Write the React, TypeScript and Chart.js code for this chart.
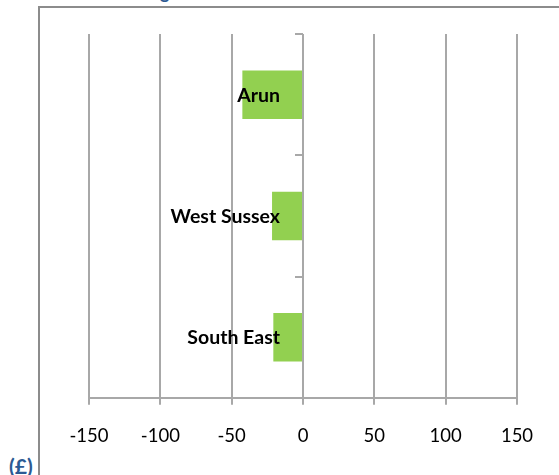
import React, { useEffect, useRef } from "react";
import { Chart, registerables } from "chart.js";

Chart.register(...registerables);

const categories = ["Arun", "West Sussex", "South East"];
const values = [-42.5, -21.7, -20.8];
const xMin = -150;
const xMax = 150;
const xStep = 50;
const unitLabel = "(£)";

const FONT = "Lato, 'Open Sans', sans-serif";

const categoryLabelPlugin = {
  id: "categoryLabels",
  afterDatasetsDraw(chart: any) {
    const { ctx, scales } = chart;
    const xs = scales.x;
    const ys = scales.y;
    const x0 = xs.getPixelForValue(0);
    ctx.save();
    // tick marks on the category axis (at x = 0), between categories
    ctx.strokeStyle = "#a8a8a8";
    ctx.lineWidth = 2;
    for (let i = 0; i <= categories.length; i++) {
      const y = Math.round(ys.getPixelForValue(i - 0.5));
      ctx.beginPath();
      ctx.moveTo(x0, y);
      ctx.lineTo(x0 - 8, y);
      ctx.stroke();
    }
    ctx.fillStyle = "#000000";
    ctx.font = `bold 19.5px ${FONT}`;
    ctx.textAlign = "right";
    ctx.textBaseline = "middle";
    categories.forEach((c, i) => {
      ctx.fillText(c, x0 - 23, ys.getPixelForValue(i) + 1);
    });
    ctx.restore();
  },
};

export default function App() {
  const ref = useRef<HTMLCanvasElement>(null);
  useEffect(() => {
    if (!ref.current) return;
    const chart = new Chart(ref.current, {
      type: "bar",
      data: {
        labels: categories,
        datasets: [
          {
            data: values,
            backgroundColor: "#92D050",
            borderWidth: 0,
            barPercentage: 0.4,
            categoryPercentage: 1,
          },
        ],
      },
      options: {
        indexAxis: "y",
        animation: false,
        responsive: false,
        devicePixelRatio: 1,
        layout: { padding: { left: 89, top: 34, right: 42, bottom: 8 } },
        plugins: {
          legend: { display: false },
          tooltip: { enabled: false },
          title: { display: false },
        },
        scales: {
          x: {
            type: "linear",
            min: xMin,
            max: xMax,
            ticks: {
              stepSize: xStep,
              color: "#000000",
              font: { family: FONT, size: 18.5 },
              padding: 20,
              maxRotation: 0,
            },
            grid: {
              color: "#a8a8a8",
              lineWidth: 2,
              tickLength: 7,
              drawTicks: true,
            },
            border: { display: true, color: "#a8a8a8", width: 2 },
          },
          y: {
            type: "category",
            display: false,
          },
        },
      },
      plugins: [categoryLabelPlugin],
    } as any);
    return () => chart.destroy();
  }, []);

  return (
    <div
      style={{
        position: "absolute",
        left: 0,
        top: 0,
        width: 559,
        height: 475,
        overflow: "hidden",
        background: "#ffffff",
      }}
    >
      <div
        style={{
          position: "absolute",
          left: 38,
          top: 6,
          width: 600,
          height: 467,
          borderLeft: "2px solid #8c8c8c",
          borderTop: "2px solid #8c8c8c",
          borderBottom: "1px solid #c8c8c8",
        }}
      />
      <div
        style={{
          position: "absolute",
          left: 160,
          top: -17,
          fontFamily: FONT,
          fontWeight: "bold",
          fontSize: 18,
          lineHeight: "18px",
          color: "#2c5a93",
        }}
      >
        g
      </div>
      <div
        style={{
          position: "absolute",
          left: 9,
          top: 455,
          fontFamily: FONT,
          fontWeight: "bold",
          fontSize: 21,
          lineHeight: "22px",
          color: "#2c5a93",
        }}
      >
        {unitLabel}
      </div>
      <canvas
        ref={ref}
        width={559}
        height={475}
        style={{ position: "absolute", left: 0, top: 0, width: 559, height: 475 }}
      />
    </div>
  );
}
